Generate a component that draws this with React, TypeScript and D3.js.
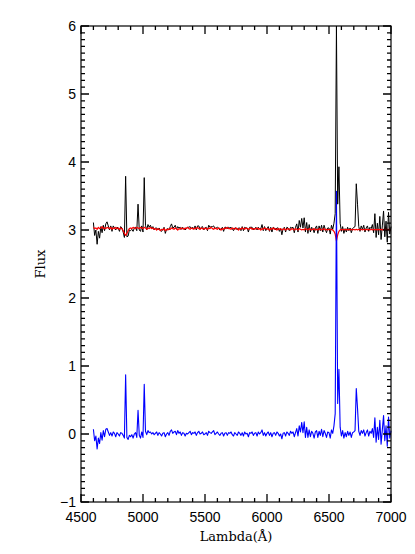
import React, { useRef, useEffect } from 'react';
import * as d3 from 'd3';

// wavelength grid of the spectrum: 4600..7000 A every 10 A
const waveStart = 4600;
const waveStep = 10;

// stellar continuum model (red), one row per 100 A
const modelFlux: number[] = [
  3.04, 3.02, 3.03, 3.01, 3.04, 3.02, 3.03, 3.05, 3.02, 3.03, // 4600
  3.02, 3.04, 3.03, 3.02, 3.04, 3.01, 3.03, 3.02, 3.04, 3.02, // 4700
  3.03, 3.01, 3.03, 3.02, 2.99, 2.95, 2.92, 2.95, 2.99, 3.02, // 4800
  3.03, 3.02, 3.04, 3.03, 3.02, 3.04, 3.03, 3.02, 3.04, 3.03, // 4900
  3.02, 3.04, 3.03, 3.01, 3.03, 3.02, 3.04, 3.02, 3.03, 3.01, // 5000
  3.02, 3.00, 3.02, 3.01, 2.99, 3.01, 3.00, 3.02, 2.99, 3.01, // 5100
  3.00, 3.02, 3.01, 3.03, 3.02, 3.01, 3.03, 3.02, 3.00, 3.02, // 5200
  3.01, 3.03, 3.02, 3.01, 3.03, 3.02, 3.04, 3.02, 3.01, 3.03, // 5300
  3.02, 3.01, 3.03, 3.02, 3.04, 3.02, 3.01, 3.03, 3.02, 3.01, // 5400
  3.03, 3.02, 3.01, 3.03, 3.02, 3.04, 3.02, 3.01, 3.03, 3.02, // 5500
  3.01, 3.03, 3.02, 3.00, 3.02, 3.01, 3.03, 3.02, 3.04, 3.02, // 5600
  3.02, 3.01, 3.03, 3.02, 3.01, 3.03, 3.02, 3.00, 3.02, 3.01, // 5700
  3.03, 3.02, 3.01, 3.03, 3.02, 3.01, 3.02, 3.03, 3.01, 3.02, // 5800
  3.01, 3.02, 3.03, 3.01, 3.02, 3.00, 3.02, 3.01, 3.03, 3.02, // 5900
  3.01, 3.02, 3.00, 3.02, 3.01, 3.03, 3.01, 3.02, 3.00, 3.02, // 6000
  3.01, 3.02, 3.00, 3.01, 3.02, 3.00, 3.01, 3.02, 3.01, 3.00, // 6100
  3.02, 3.01, 3.00, 3.02, 3.01, 3.00, 3.02, 3.01, 3.00, 3.01, // 6200
  3.00, 3.02, 3.01, 3.00, 3.02, 3.01, 3.00, 3.01, 3.02, 3.00, // 6300
  3.01, 3.00, 3.02, 3.01, 3.00, 3.01, 3.02, 3.00, 3.01, 3.00, // 6400
  3.01, 3.00, 3.01, 3.00, 2.98, 2.94, 2.84, 2.93, 2.98, 3.00, // 6500
  3.01, 3.00, 3.01, 3.00, 3.01, 3.00, 3.01, 3.00, 3.01, 3.00, // 6600
  3.01, 3.00, 3.01, 3.00, 3.01, 3.00, 3.01, 3.00, 3.01, 3.00, // 6700
  3.01, 3.00, 3.01, 3.00, 3.01, 3.00, 3.01, 3.00, 3.01, 3.00, // 6800
  3.01, 3.00, 3.01, 3.00, 3.01, 3.00, 3.01, 3.00, 3.01, 3.00, // 6900
  3.00,                                                       // 7000
];

// emission line residual = observed - model (blue)
const residualFlux: number[] = [
  0.07, -0.10, -0.03, -0.22, -0.06, -0.14, 0.02, -0.09, 0.05, -0.04, // 4600
  0.07, 0.08, 0.03, -0.02, 0.02, -0.03, 0.03, 0.01, -0.04, 0.02,     // 4700
  0.00, -0.03, 0.02, 0.01, -0.02, -0.06, 0.87, -0.05, -0.08, -0.02,  // 4800
  -0.04, -0.01, -0.06, 0.00, 0.02, -0.05, 0.35, -0.02, -0.06, 0.03,  // 4900
  -0.05, 0.73, 0.04, -0.01, 0.05, 0.02, 0.03, 0.00, 0.02, -0.01,     // 5000
  0.01, 0.03, -0.02, 0.02, 0.00, -0.03, 0.01, 0.02, -0.04, 0.00,     // 5100
  0.02, -0.02, 0.04, 0.06, 0.01, 0.03, 0.04, -0.01, 0.05, 0.01,      // 5200
  0.03, -0.02, 0.02, 0.01, -0.03, 0.01, 0.00, 0.02, 0.04, -0.01,     // 5300
  0.02, 0.01, 0.03, -0.02, 0.02, 0.04, 0.00, 0.01, 0.03, -0.01,      // 5400
  0.00, 0.02, -0.02, 0.04, 0.02, 0.01, 0.03, 0.05, -0.01, 0.01,      // 5500
  0.03, 0.00, -0.02, 0.01, 0.02, -0.03, 0.01, 0.02, -0.02, 0.02,     // 5600
  0.01, 0.03, -0.01, -0.03, 0.02, 0.00, -0.02, 0.03, 0.01, -0.02,    // 5700
  0.02, -0.03, 0.03, 0.00, 0.01, -0.04, 0.02, 0.01, 0.03, -0.02,     // 5800
  0.01, 0.02, -0.03, 0.03, 0.00, 0.02, 0.06, -0.02, 0.02, -0.03,     // 5900
  0.01, 0.03, -0.02, 0.02, -0.04, 0.01, 0.02, -0.02, 0.03, 0.01,     // 6000
  -0.03, 0.00, -0.07, 0.01, 0.02, -0.03, 0.03, 0.01, -0.02, 0.04,    // 6100
  0.01, 0.03, -0.04, 0.02, 0.08, -0.03, 0.12, 0.03, 0.17, 0.02,      // 6200
  0.18, -0.05, 0.10, -0.05, 0.06, -0.04, 0.04, 0.01, -0.06, 0.03,    // 6300
  0.05, -0.05, 0.04, -0.02, 0.07, -0.04, 0.05, 0.01, -0.05, 0.03,    // 6400
  0.02, -0.06, 0.06, 0.01, 0.12, 0.30, 3.57, 0.45, 0.95, 0.10,       // 6500
  -0.03, 0.05, -0.06, 0.02, -0.04, 0.04, -0.02, 0.03, -0.05, 0.02,   // 6600
  0.03, 0.05, 0.67, 0.38, 0.04, -0.02, 0.05, 0.01, 0.06, -0.03,      // 6700
  0.02, 0.06, -0.03, 0.04, 0.01, 0.08, -0.05, 0.24, -0.12, 0.10,     // 6800
  -0.08, 0.20, -0.15, 0.06, 0.27, -0.10, 0.12, -0.18, 0.25, -0.06,   // 6900
  0.05,                                                              // 7000
];

const xTickValues = [4500, 5000, 5500, 6000, 6500, 7000];
const yTickValues = [-1, 0, 1, 2, 3, 4, 5, 6];

const App = () => {
  const svgRef = useRef<SVGSVGElement>(null);
  const width = 415;
  const height = 554;
  const left = 81, right = 391, top = 26, bottom = 502;

  useEffect(() => {
    const svg = d3.select(svgRef.current);
    svg.selectAll('*').remove();

    const x = d3.scaleLinear().domain([4500, 7000]).range([left, right]);
    const y = d3.scaleLinear().domain([-1, 6]).range([bottom, top]);

    const wave = modelFlux.map((_, i) => waveStart + i * waveStep);
    const observed = modelFlux.map((m, i) => m + residualFlux[i]);

    // spectra, cut at the top of the box
    const line = d3.line<number>()
      .x((_, i) => x(wave[i]))
      .y(d => Math.max(top, y(d)));

    const series: [number[], string, number][] = [
      [observed, '#000', 1],
      [modelFlux, '#ff0000', 1.2],
      [residualFlux, '#0000ff', 1.1],
    ];
    series.forEach(([data, color, sw]) => {
      svg.append('path')
        .attr('d', line(data))
        .attr('fill', 'none')
        .attr('stroke', color)
        .attr('stroke-width', sw)
        .attr('stroke-linejoin', 'round');
    });

    // tick marks pointing inward on all four sides, major every 500 A / 1 unit
    const xMinor = d3.range(4500, 7001, 100);
    const yMinor = d3.range(-10, 61).map(v => v / 10);
    const ticks = d3.path();
    xMinor.forEach(v => {
      const len = v % 500 === 0 ? 8 : 4;
      ticks.moveTo(x(v), bottom); ticks.lineTo(x(v), bottom - len);
      ticks.moveTo(x(v), top); ticks.lineTo(x(v), top + len);
    });
    yMinor.forEach(v => {
      const len = Math.abs(v - Math.round(v)) < 1e-6 ? 8 : 4;
      ticks.moveTo(left, y(v)); ticks.lineTo(left + len, y(v));
      ticks.moveTo(right, y(v)); ticks.lineTo(right - len, y(v));
    });
    svg.append('path')
      .attr('d', ticks.toString())
      .attr('fill', 'none')
      .attr('stroke', '#000')
      .attr('stroke-width', 1.3);

    svg.append('rect')
      .attr('x', left).attr('y', top)
      .attr('width', right - left).attr('height', bottom - top)
      .attr('fill', 'none')
      .attr('stroke', '#000')
      .attr('stroke-width', 1.2);

    const labelFont = '"Liberation Sans", Arial, sans-serif';
    svg.append('g').selectAll('text').data(xTickValues).enter().append('text')
      .attr('x', d => x(d))
      .attr('y', bottom + 20)
      .attr('text-anchor', 'middle')
      .style('font-family', labelFont)
      .style('font-size', '14px')
      .text(d => d3.format('d')(d));

    svg.append('g').selectAll('text').data(yTickValues).enter().append('text')
      .attr('x', left - 5)
      .attr('y', d => y(d))
      .attr('dy', '0.35em')
      .attr('text-anchor', 'end')
      .style('font-family', labelFont)
      .style('font-size', '14px')
      .text(d => (d < 0 ? '\u2212' + Math.abs(d) : String(d)));

    svg.append('text')
      .attr('x', (left + right) / 2)
      .attr('y', 541)
      .attr('text-anchor', 'middle')
      .style('font-family', '"DejaVu Serif", serif')
      .style('font-size', '13px')
      .text('Lambda(\u00c5)');

    svg.append('text')
      .attr('transform', `translate(45,${(top + bottom) / 2}) rotate(-90)`)
      .attr('text-anchor', 'middle')
      .style('font-family', '"DejaVu Serif", serif')
      .style('font-size', '13px')
      .text('Flux');
  }, []);

  return (
    <svg
      ref={svgRef}
      width={width}
      height={height}
      style={{ position: 'absolute', left: 0, top: 0 }}
    />
  );
};

export default App;
